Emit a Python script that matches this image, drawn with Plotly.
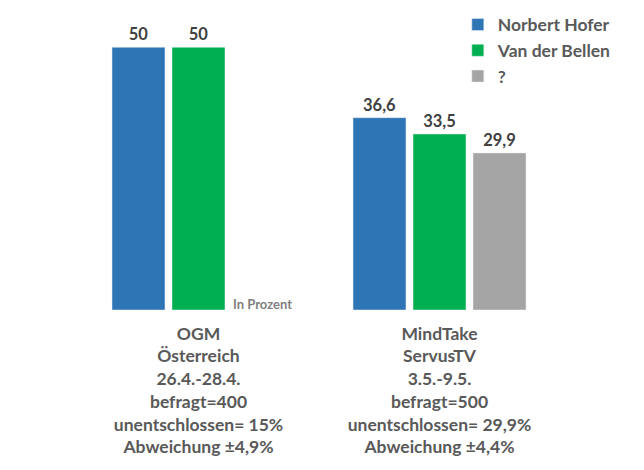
import plotly.graph_objects as go

categories = ["OGM", "MindTake"]
tick_labels = [
    "OGM<br>Österreich<br>26.4.-28.4.<br>befragt=400<br>unentschlossen= 15%<br>Abweichung ±4,9%",
    "MindTake<br>ServusTV<br>3.5.-9.5.<br>befragt=500<br>unentschlossen= 29,9%<br>Abweichung ±4,4%",
]
series_names = ["Norbert Hofer", "Van der Bellen", "?"]
hofer = [50, 36.6]
bellen = [50, 33.5]
unknown = [None, 29.9]
colors = ["#2E75B6", "#00B050", "#A5A5A5"]


def fmt(v):
    if v is None:
        return ""
    if float(v).is_integer():
        return str(int(v))
    return f"{v:.1f}".replace(".", ",")


FONT = "Lato"
fig = go.Figure()
for name, vals, col in zip(series_names, [hofer, bellen, unknown], colors):
    fig.add_trace(go.Bar(
        name=name, x=categories, y=vals, marker_color=col,
        legendgroup=name,
        text=[fmt(v) for v in vals], textposition="outside",
        textfont=dict(family=FONT, size=16.5, color="#404040", weight="bold"),
        cliponaxis=False,
    ))

fig.add_annotation(
    text="In Prozent", x=0, y=0, xref="x", yref="y",
    xshift=64, yshift=-4, xanchor="center", yanchor="bottom", showarrow=False,
    font=dict(family=FONT, size=13, color="#7F7F7F", weight="bold"),
)

fig.update_layout(
    width=644, height=470,
    margin=dict(l=70, r=92, t=13, b=168, autoexpand=False),
    paper_bgcolor="white", plot_bgcolor="white",
    barmode="group", bargap=0.253, bargroupgap=0.117,
    xaxis=dict(tickmode="array", tickvals=categories, ticktext=tick_labels,
               showline=False, showgrid=False, ticks="", range=[-0.5, 1.5],
               automargin=False, ticklabelstandoff=11,
               tickfont=dict(family=FONT, size=17.5, color="#595959", weight="bold")),
    yaxis=dict(range=[0, 55], visible=False, automargin=False),
    legend=dict(x=0.788, y=1.0496, xanchor="left", yanchor="top",
                font=dict(family=FONT, size=17.5, color="#595959", weight="bold"),
                bgcolor="rgba(0,0,0,0)", itemwidth=30,
                traceorder="grouped", tracegroupgap=0),
    showlegend=True,
)

fig.write_html("out.html")
